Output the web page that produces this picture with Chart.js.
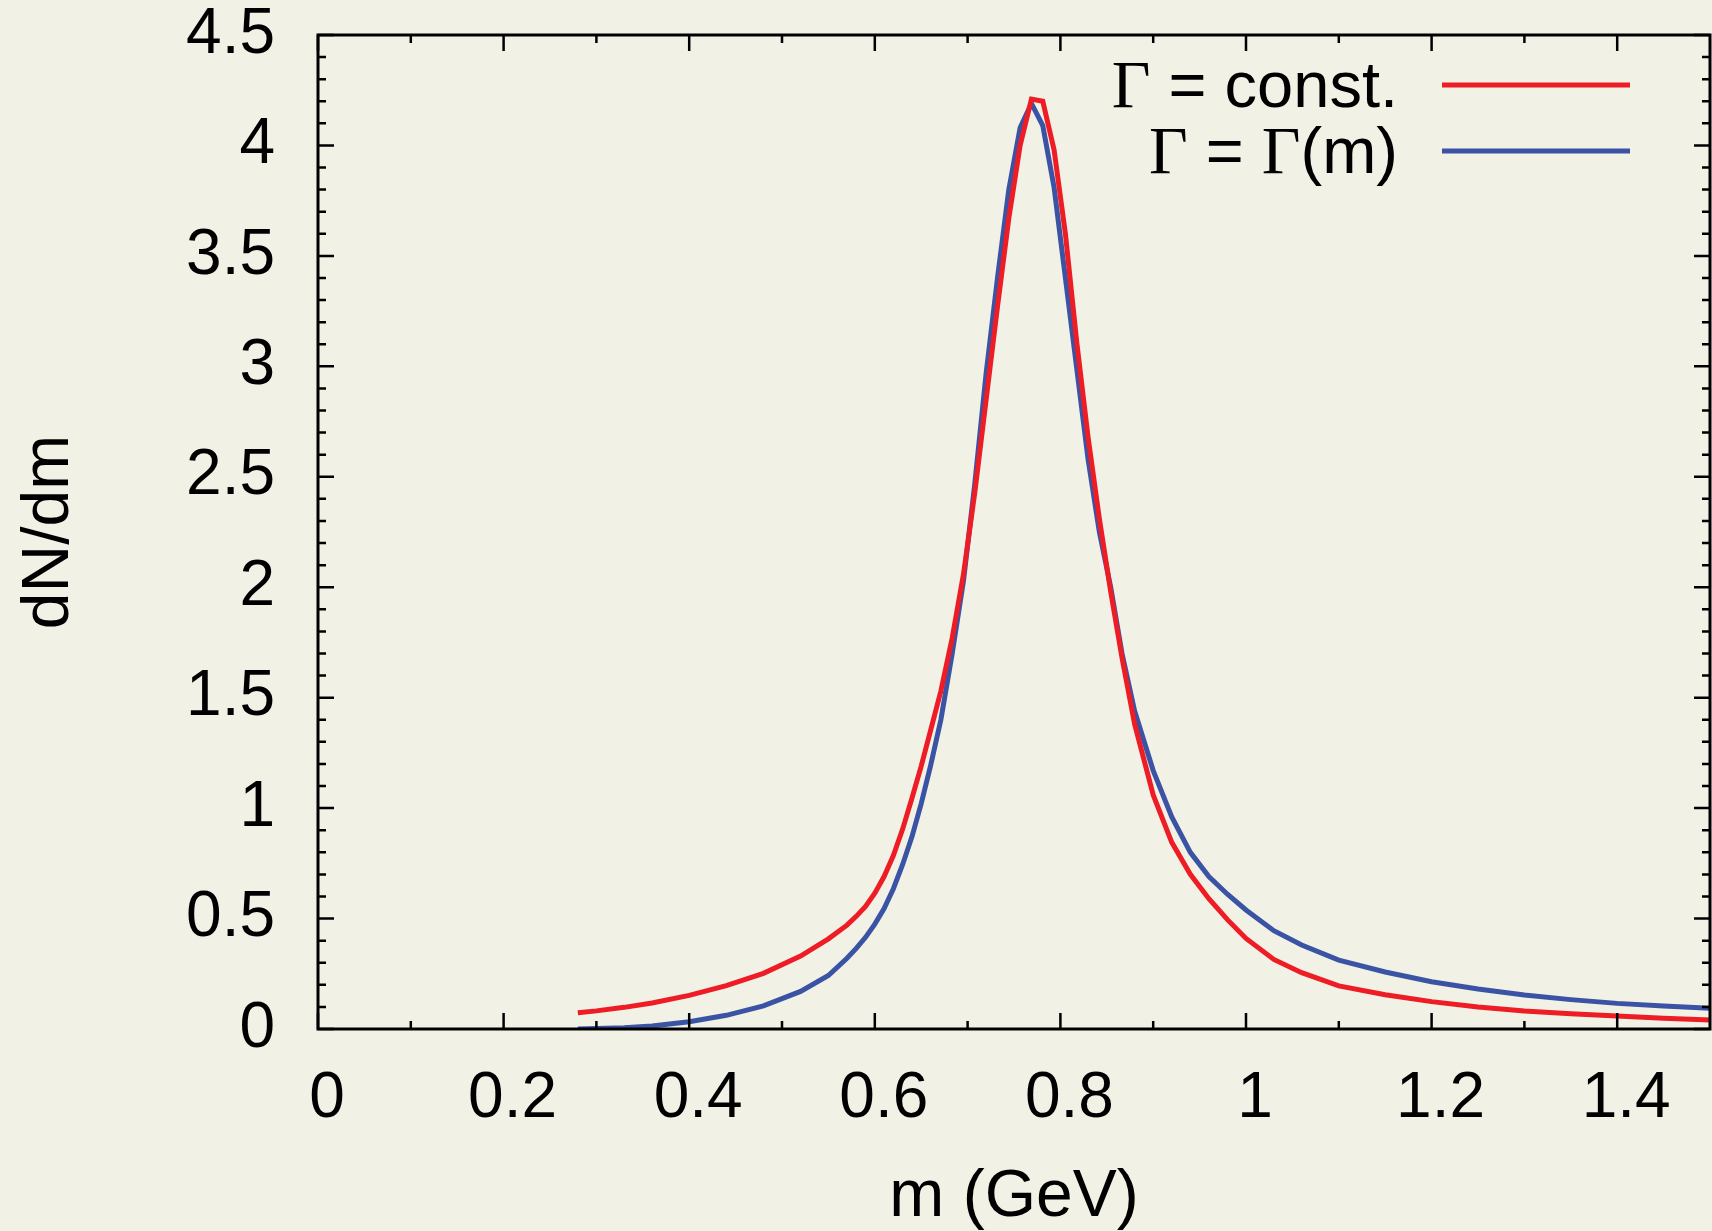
<!DOCTYPE html>
<html>
<head>
<meta charset="utf-8">
<script src="https://cdn.jsdelivr.net/npm/chart.js@4.4.1/dist/chart.umd.min.js"></script>
<style>
  html, body { margin: 0; padding: 0; background: #f2f1e6; }
  #wrap { width: 1712px; height: 1231px; position: relative; }
  canvas { display: block; }
</style>
</head>
<body>
<div id="wrap"><canvas id="c" width="1712" height="1231"></canvas></div>
<script>
// ---- data ----
const mass = [0.28,0.30,0.33,0.36,0.40,0.44,0.48,0.52,0.55,0.57,0.58,0.59,0.60,0.61,0.62,0.63,0.64,0.65,0.66,0.6712,0.6834,0.6956,0.7078,0.72,0.7322,0.7444,0.7566,0.7688,0.781,0.7932,0.8054,0.8176,0.8298,0.842,0.8542,0.8664,0.88,0.90,0.92,0.94,0.96,0.98,1.00,1.03,1.06,1.10,1.15,1.20,1.25,1.30,1.35,1.40,1.45,1.50];
const dNdmConst = [0.074,0.082,0.098,0.118,0.152,0.196,0.252,0.330,0.408,0.470,0.510,0.555,0.615,0.690,0.785,0.905,1.045,1.190,1.350,1.530,1.770,2.060,2.430,2.850,3.270,3.670,4.000,4.210,4.200,3.980,3.600,3.110,2.680,2.310,1.980,1.680,1.380,1.060,0.845,0.700,0.590,0.495,0.410,0.315,0.255,0.195,0.155,0.124,0.100,0.081,0.069,0.059,0.049,0.041];
const dNdmVar = [0.000,0.002,0.006,0.014,0.033,0.062,0.105,0.170,0.242,0.320,0.365,0.415,0.475,0.545,0.635,0.745,0.870,1.020,1.190,1.400,1.700,2.030,2.470,2.970,3.400,3.800,4.080,4.190,4.090,3.810,3.400,2.990,2.580,2.250,2.000,1.700,1.440,1.170,0.960,0.800,0.690,0.610,0.539,0.445,0.380,0.312,0.258,0.214,0.181,0.154,0.133,0.116,0.104,0.094];
const seriesLabels = ['Γ = const.', 'Γ = Γ(m)'];
const seriesColors = ['#ee1c25', '#3a53a4'];
const xTicks = [0, 0.2, 0.4, 0.6, 0.8, 1, 1.2, 1.4];
const yTicks = [0, 0.5, 1, 1.5, 2, 2.5, 3, 3.5, 4, 4.5];
const xTitle = 'm (GeV)';
const yTitle = 'dN/dm';

const BG = '#f2f1e6';
const SANS = '"Liberation Sans", Arial, Helvetica, sans-serif';
const SERIF = '"Liberation Serif", "Times New Roman", serif';

const bgPlugin = {
  id: 'bg',
  beforeDraw(chart) {
    const c = chart.ctx;
    c.save();
    c.fillStyle = BG;
    c.fillRect(0, 0, chart.width, chart.height);
    c.restore();
  }
};

const framePlugin = {
  id: 'frame',
  afterDatasetsDraw(chart) {
    const c = chart.ctx;
    const a = chart.chartArea;
    const xs = chart.scales.x, ys = chart.scales.y;
    c.save();
    c.strokeStyle = '#000';
    c.lineCap = 'butt';
    c.lineWidth = 2.5;
    const major = 16, minor = 8;
    const drawX = (v, len) => {
      const px = xs.getPixelForValue(v);
      if (px < a.left - 1 || px > a.right + 1) return;
      c.beginPath();
      c.moveTo(px, a.bottom); c.lineTo(px, a.bottom - len);
      c.moveTo(px, a.top); c.lineTo(px, a.top + len);
      c.stroke();
    };
    const drawY = (v, len) => {
      const py = ys.getPixelForValue(v);
      c.beginPath();
      c.moveTo(a.left, py); c.lineTo(a.left + len, py);
      c.moveTo(a.right, py); c.lineTo(a.right - len, py);
      c.stroke();
    };
    for (let k = 1; k < 15; k += 2) drawX(k / 10, minor);
    xTicks.forEach(v => drawX(v, major));
    for (let k = 1; k < 45; k++) { if (k % 5 !== 0) drawY(k / 10, minor); }
    yTicks.forEach(v => drawY(v, major));
    c.lineWidth = 3;
    c.strokeRect(a.left, a.top, a.right - a.left, a.bottom - a.top);
    c.restore();
  }
};

const legendPlugin = {
  id: 'customLegend',
  afterDraw(chart) {
    const c = chart.ctx;
    const textRight = 1398, lineX0 = 1442, lineX1 = 1630;
    const rowY = [85, 151];
    c.save();
    chart.data.datasets.forEach((ds, i) => {
      const y = rowY[i];
      c.strokeStyle = ds.borderColor;
      c.lineWidth = 5;
      c.beginPath(); c.moveTo(lineX0, y); c.lineTo(lineX1, y); c.stroke();
      const parts = ds.label.split(/(Γ)/).filter(s => s.length);
      const fonts = parts.map(p => p === 'Γ' ? '67px ' + SERIF : '65px ' + SANS);
      const widths = parts.map((p, j) => { c.font = fonts[j]; return c.measureText(p).width; });
      let x = textRight - widths.reduce((s, w) => s + w, 0);
      c.fillStyle = '#000';
      c.textBaseline = 'alphabetic';
      c.textAlign = 'left';
      parts.forEach((p, j) => { c.font = fonts[j]; c.fillText(p, x, y + 22); x += widths[j]; });
    });
    c.restore();
  }
};

const fmt = v => String(Math.round(v * 10) / 10);

const ctx = document.getElementById('c').getContext('2d');
new Chart(ctx, {
  type: 'line',
  data: {
    datasets: [
      { label: seriesLabels[0], data: mass.map((m, i) => ({ x: m, y: dNdmConst[i] })),
        borderColor: seriesColors[0], borderWidth: 5, pointRadius: 0, tension: 0, fill: false },
      { label: seriesLabels[1], data: mass.map((m, i) => ({ x: m, y: dNdmVar[i] })),
        borderColor: seriesColors[1], borderWidth: 5, pointRadius: 0, tension: 0, fill: false }
    ]
  },
  options: {
    responsive: false,
    animation: false,
    devicePixelRatio: 1,
    layout: { padding: { top: 35, right: 2, left: 0, bottom: 0 } },
    plugins: { legend: { display: false }, tooltip: { enabled: false } },
    scales: {
      x: {
        type: 'linear', min: 0, max: 1.5,
        afterBuildTicks: s => { s.ticks = xTicks.map(v => ({ value: v })); },
        afterFit: s => { s.height = 202; s.paddingLeft = 0; s.paddingRight = 0; },
        grid: { display: false, drawTicks: false },
        border: { display: false },
        ticks: { font: { family: SANS, size: 64 }, color: '#000', padding: 32, labelOffset: 9, maxRotation: 0, autoSkip: false, callback: fmt },
        title: { display: true, text: xTitle, color: '#000', font: { family: SANS, size: 66, lineHeight: 1.0 }, padding: { top: 0, bottom: 0 } }
      },
      y: {
        type: 'linear', min: 0, max: 4.5,
        afterBuildTicks: s => { s.ticks = yTicks.map(v => ({ value: v })); },
        afterFit: s => { s.width = 318; s.paddingTop = 0; s.paddingBottom = 0; },
        grid: { display: false, drawTicks: false },
        border: { display: false },
        ticks: { font: { family: SANS, size: 64 }, color: '#000', padding: 43, autoSkip: false, callback: fmt },
        title: { display: true, text: yTitle, color: '#000', font: { family: SANS, size: 66, lineHeight: 1.0 }, padding: { top: 17, bottom: 0 } }
      }
    }
  },
  plugins: [bgPlugin, framePlugin, legendPlugin]
});
</script>
</body>
</html>
